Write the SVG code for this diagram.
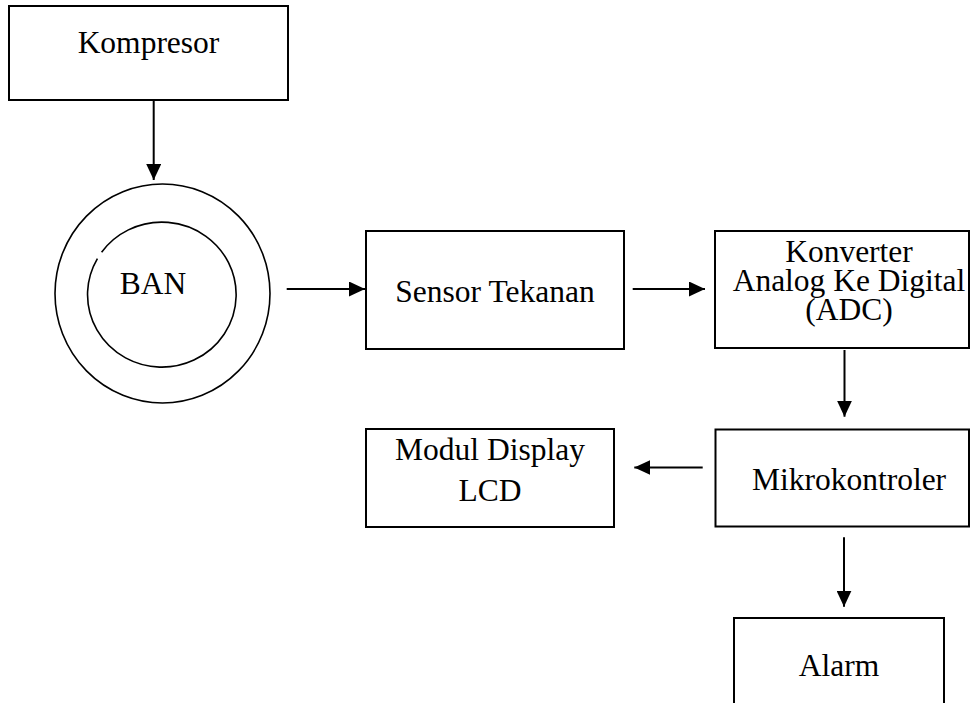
<svg xmlns="http://www.w3.org/2000/svg" width="970" height="703" viewBox="0 0 970 703">
  <style>
    .box { fill: #ffffff; stroke: #000000; stroke-width: 2; }
    .ring { fill: none; stroke: #000000; stroke-width: 1.6; }
    .lbl { font-family: "Liberation Serif", "Times New Roman", serif; font-size: 31.5px; fill: #000000; text-anchor: middle; }
    .conn { stroke: #000000; stroke-width: 2; fill: none; marker-end: url(#arrow); }
  </style>
  <defs>
    <marker id="arrow" markerUnits="userSpaceOnUse" markerWidth="16" markerHeight="15" refX="16" refY="7.5" orient="auto">
      <path d="M0,0 L16,7.5 L0,15 Z" fill="#000000"/>
    </marker>
  </defs>
  <rect width="970" height="703" fill="#ffffff"/>

  <g id="kompresor">
    <rect class="box" x="9" y="6" width="279" height="94"/>
    <text class="lbl" x="148.5" y="53">Kompresor</text>
  </g>

  <g id="ban">
    <ellipse class="ring" cx="162.5" cy="293.5" rx="107.5" ry="109.5"/>
    <path class="ring" d="M101.6,252.2 A74.3,72.5 0 1 1 97.4,258.55"/>
    <text class="lbl" x="153" y="294">BAN</text>
  </g>

  <g id="sensor">
    <rect class="box" x="366" y="231" width="258" height="118"/>
    <text class="lbl" x="495" y="302">Sensor Tekanan</text>
  </g>

  <g id="adc">
    <rect class="box" x="715" y="231" width="254" height="117"/>
    <text class="lbl" x="849" y="262">Konverter</text>
    <text class="lbl" x="849" y="291">Analog Ke Digital</text>
    <text class="lbl" x="849" y="320">(ADC)</text>
  </g>

  <g id="lcd">
    <rect class="box" x="366" y="429" width="248" height="98"/>
    <text class="lbl" x="490" y="460">Modul Display</text>
    <text class="lbl" x="490" y="500.5">LCD</text>
  </g>

  <g id="mikrokontroler">
    <rect class="box" x="715.5" y="429.5" width="253.5" height="97"/>
    <text class="lbl" x="849" y="490">Mikrokontroler</text>
  </g>

  <g id="alarm">
    <rect class="box" x="734" y="618" width="210" height="100"/>
    <text class="lbl" x="839" y="676">Alarm</text>
  </g>

  <g id="connectors">
    <line class="conn" x1="153.7" y1="100" x2="153.7" y2="180"/>
    <line class="conn" x1="286.7" y1="289" x2="365" y2="289"/>
    <line class="conn" x1="632.7" y1="289" x2="705" y2="289"/>
    <line class="conn" x1="844.5" y1="350" x2="844.5" y2="416.7"/>
    <line class="conn" x1="702.7" y1="467.5" x2="634.3" y2="467.5"/>
    <line class="conn" x1="844" y1="537.3" x2="844" y2="606.7"/>
  </g>
</svg>
